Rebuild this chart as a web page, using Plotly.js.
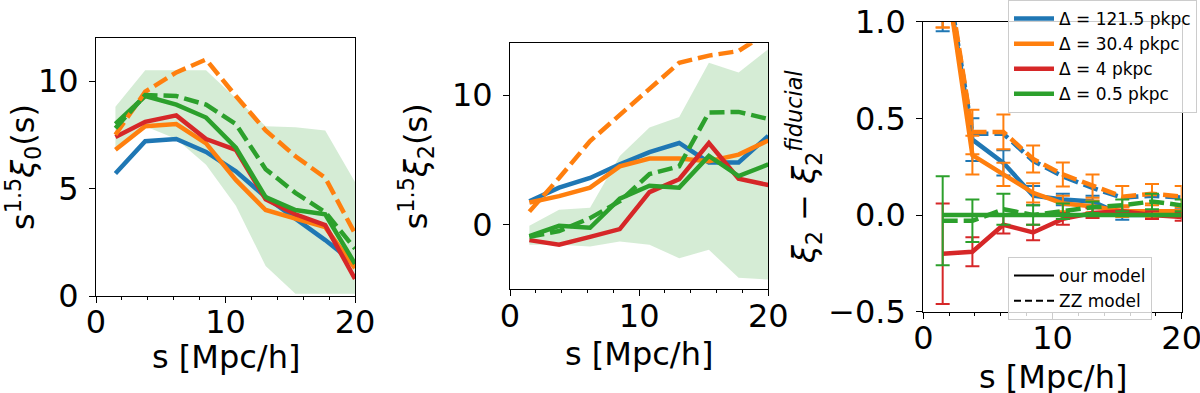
<!DOCTYPE html>
<html>
<head>
<meta charset="utf-8">
<script src="https://cdn.plot.ly/plotly-3.0.1.min.js"></script>
<style>
  html, body { margin: 0; padding: 0; background: #ffffff; }
  #plot { width: 1200px; height: 393px; }
</style>
</head>
<body>
<div id="plot"></div>
<script>
// separation bins (Mpc/h)
const s = [1.5, 3.8, 6.2, 8.5, 10.8, 13.1, 15.4, 17.7, 20.0];

// monopole s^1.5 xi0
const xi0_blue = [5.7, 7.2, 7.3, 6.7, 5.8, 4.6, 3.6, 2.6, 1.5];
const xi0_orange = [6.8, 7.9, 8.0, 7.1, 5.4, 4.0, 3.6, 3.2, 1.3];
const xi0_red = [7.4, 8.1, 8.4, 7.3, 6.8, 4.5, 3.8, 3.3, 0.8];
const xi0_green = [8.0, 9.3, 8.9, 8.3, 6.9, 4.6, 4.0, 3.8, 1.5];
const xi0_orange_zz = [7.5, 9.5, 10.4, 11.0, 9.3, 7.7, 6.5, 5.5, 2.9];
const xi0_green_zz = [7.8, 9.35, 9.3, 8.9, 8.0, 5.9, 4.8, 3.9, 2.2];
const xi0_band_lo = [6.9, 7.9, 7.3, 6.1, 4.2, 1.4, 0.1, 0.1, 0.1];
const xi0_band_hi = [8.8, 10.5, 10.5, 10.5, 9.2, 7.9, 7.85, 7.7, 5.3];

// quadrupole s^1.5 xi2
const xi2_blue = [1.8, 2.85, 3.6, 4.65, 5.6, 6.3, 4.8, 4.8, 6.85];
const xi2_orange = [1.7, 2.2, 2.85, 4.5, 5.1, 5.1, 4.9, 5.4, 6.5];
const xi2_red = [-1.2, -1.55, -0.95, -0.35, 2.5, 3.5, 6.3, 3.55, 3.05];
const xi2_green = [-0.9, -0.1, -0.25, 2.0, 3.0, 2.85, 5.3, 3.75, 4.65];
const xi2_orange_zz = [1.0, 3.6, 6.45, 8.5, 10.45, 12.5, 13.05, 13.4, 14.9];
const xi2_green_zz = [-0.95, -0.5, 0.5, 1.8, 3.9, 4.5, 8.65, 8.7, 8.15];
const xi2_band_lo = [-1.55, -1.55, -1.7, -1.3, -1.55, -2.6, -1.95, -4.1, -4.25];
const xi2_band_hi = [-0.1, 1.15, 1.3, 5.3, 7.5, 8.3, 12.5, 11.75, 13.55];

// xi2 - xi2^fiducial with errors
const d_blue = [1.35, 0.39, 0.27, 0.10, 0.08, 0.07, 0.0, 0.0, 0.01];
const d_blue_err = [0.4, 0.11, 0.065, 0.05, 0.03, 0.03, 0.025, 0.02, 0.02];
const d_orange = [1.37, 0.31, 0.21, 0.115, 0.06, 0.045, 0.02, 0.02, 0.02];
const d_orange_err = [0.4, 0.1, 0.06, 0.05, 0.04, 0.03, 0.03, 0.03, 0.03];
const d_red = [-0.2, -0.19, -0.05, -0.09, -0.02, 0.01, 0.02, 0.0, -0.01];
const d_red_err = [0.26, 0.075, 0.045, 0.04, 0.03, 0.025, 0.02, 0.02, 0.02];
const d_green = [0, 0, 0, 0, 0, 0, 0, 0, 0];
const d_blue_zz = [1.38, 0.42, 0.42, 0.28, 0.2, 0.14, 0.09, 0.1, 0.09];
const d_orange_zz = [1.4, 0.43, 0.43, 0.29, 0.21, 0.15, 0.095, 0.11, 0.095];
const d_orange_zz_err = [0.43, 0.115, 0.09, 0.07, 0.062, 0.06, 0.055, 0.05, 0.055];
const d_green_zz = [-0.03, -0.03, 0.03, 0.0, 0.02, 0.04, 0.05, 0.07, 0.05];
const d_green_zz_err = [0.23, 0.11, 0.08, 0.05, 0.04, 0.03, 0.03, 0.04, 0.03];

const labels = ['Δ = 121.5 pkpc', 'Δ = 30.4 pkpc', 'Δ = 4 pkpc', 'Δ = 0.5 pkpc'];

const BLUE = '#1f77b4', ORANGE = '#ff7f0e', RED = '#d62728', GREEN = '#2ca02c';
const DASH = '15px,6px';

function line(x, y, color, ax, dashed) {
    return {
        x: x, y: y, xaxis: 'x' + ax, yaxis: 'y' + ax,
        type: 'scatter', mode: 'lines', showlegend: false,
        line: {color: color, width: 4.5, dash: dashed ? DASH : 'solid'},
        hoverinfo: 'skip'
    };
}

function band(lo, hi, ax) {
    return [
        {x: s, y: lo, xaxis: 'x' + ax, yaxis: 'y' + ax, type: 'scatter', mode: 'lines',
         line: {width: 0, color: 'rgba(0,0,0,0)'}, showlegend: false, hoverinfo: 'skip'},
        {x: s, y: hi, xaxis: 'x' + ax, yaxis: 'y' + ax, type: 'scatter', mode: 'lines',
         fill: 'tonexty', fillcolor: 'rgba(44,160,44,0.2)',
         line: {width: 0, color: 'rgba(0,0,0,0)'}, showlegend: false, hoverinfo: 'skip'}
    ];
}

function withErr(tr, err) {
    tr.error_y = {type: 'data', array: err, visible: true, color: tr.line.color, thickness: 2, width: 7};
    return tr;
}

var data = [];

// panel 1
data = data.concat(band(xi0_band_lo, xi0_band_hi, ''));
data.push(line(s, xi0_blue, BLUE, ''));
data.push(line(s, xi0_orange, ORANGE, ''));
data.push(line(s, xi0_red, RED, ''));
data.push(line(s, xi0_green, GREEN, ''));
data.push(line(s, xi0_orange_zz, ORANGE, '', true));
data.push(line(s, xi0_green_zz, GREEN, '', true));

// panel 2
data = data.concat(band(xi2_band_lo, xi2_band_hi, '2'));
data.push(line(s, xi2_blue, BLUE, '2'));
data.push(line(s, xi2_orange, ORANGE, '2'));
data.push(line(s, xi2_red, RED, '2'));
data.push(line(s, xi2_green, GREEN, '2'));
data.push(line(s, xi2_orange_zz, ORANGE, '2', true));
data.push(line(s, xi2_green_zz, GREEN, '2', true));

// panel 3
var p3 = [
    withErr(line(s, d_blue, BLUE, '3'), d_blue_err),
    withErr(line(s, d_orange, ORANGE, '3'), d_orange_err),
    withErr(line(s, d_red, RED, '3'), d_red_err),
    line(s, d_green, GREEN, '3')
];
p3.forEach(function(tr, i) {
    tr.showlegend = true;
    tr.name = labels[i];
    tr.legend = 'legend';
    tr.legendgroup = 'g' + i;
});
data.push(line(s, d_blue_zz, BLUE, '3', true));
data = data.concat(p3);
data.push(withErr(line(s, d_orange_zz, ORANGE, '3', true), d_orange_zz_err));
data.push(withErr(line(s, d_green_zz, GREEN, '3', true), d_green_zz_err));

// model style legend
data.push({x: [null], y: [null], xaxis: 'x3', yaxis: 'y3', type: 'scatter', mode: 'lines',
           name: 'our model', legend: 'legend2', line: {color: '#000000', width: 2}});
data.push({x: [null], y: [null], xaxis: 'x3', yaxis: 'y3', type: 'scatter', mode: 'lines',
           name: 'ZZ model', legend: 'legend2', line: {color: '#000000', width: 2, dash: '7px,4px'}});

const FONT = 'DejaVu Sans, sans-serif';

function xax(dom, anchor) {
    return {
        domain: dom, anchor: anchor, range: [0, 20], tickvals: [0, 10, 20],
        ticks: 'outside', ticklen: 6, tickwidth: 1, tickcolor: '#000',
        minor: {dtick: 2, ticks: 'outside', ticklen: 3, tickcolor: '#000'},
        showline: true, mirror: true, linecolor: '#000', linewidth: 1,
        showgrid: false, zeroline: false,
        tickfont: {family: FONT, size: 32, color: '#000'},
        ticklabelstandoff: -8, ticklabeloverflow: 'allow'
    };
}

function yax(dom, anchor, rng, ticks, title, standoff, fmt) {
    return {
        domain: dom, anchor: anchor, range: rng, tickvals: ticks, tickformat: fmt || '',
        ticks: 'outside', ticklen: 6, tickwidth: 1, tickcolor: '#000',
        showline: true, mirror: true, linecolor: '#000', linewidth: 1,
        showgrid: false, zeroline: false,
        tickfont: {family: FONT, size: 32, color: '#000'},
        ticklabelstandoff: 4,
        title: {text: title, font: {family: FONT, size: 32, color: '#000'}, standoff: standoff}
    };
}

function xtitle(xc, yc) {
    return {
        text: 's [Mpc/h]', xref: 'paper', yref: 'paper',
        x: xc / 1200, y: 1 - yc / 393, xanchor: 'center', yanchor: 'middle',
        showarrow: false, font: {family: FONT, size: 32, color: '#000'}
    };
}

var layout = {
    width: 1200,
    height: 393,
    margin: {l: 0, r: 0, t: 0, b: 0},
    paper_bgcolor: '#ffffff',
    plot_bgcolor: '#ffffff',
    font: {family: FONT, color: '#000'},
    xaxis: xax([96 / 1200, 355 / 1200], 'y'),
    yaxis: yax([1 - 296 / 393, 1 - 38 / 393], 'x', [0, 12], [0, 5, 10],
               's<sup>1.5</sup><i>ξ</i><sub>0</sub>(s)', 32),
    xaxis2: xax([510 / 1200, 768.3 / 1200], 'y2'),
    yaxis2: yax([1 - 289.3 / 393, 1 - 43.3 / 393], 'x2', [-5, 14], [0, 10],
                's<sup>1.5</sup><i>ξ</i><sub>2</sub>(s)', 14),
    xaxis3: xax([923.3 / 1200, 1181.7 / 1200], 'y3'),
    yaxis3: yax([1 - 311.7 / 393, 1 - 21.7 / 393], 'x3', [-0.5, 1.0], [-0.5, 0, 0.5, 1.0],
                '<i>ξ</i><sub>2</sub> − <i>ξ</i><sub>2</sub><sup><i>fiducial</i></sup>', 2, '.1f'),
    annotations: [xtitle(225.5, 357), xtitle(639, 354), xtitle(1052.5, 377)],
    legend: {
        x: 1008 / 1200, y: 1, xanchor: 'left', yanchor: 'top', traceorder: 'normal',
        tracegroupgap: 3,
        bgcolor: 'rgba(255,255,255,0.8)', bordercolor: '#cccccc', borderwidth: 1,
        font: {family: FONT, size: 17, color: '#000'},
        itemwidth: 40
    },
    legend2: {
        x: 1008 / 1200, y: 1 - 257 / 393, xanchor: 'left', yanchor: 'top', traceorder: 'normal',
        bgcolor: 'rgba(255,255,255,0.8)', bordercolor: '#cccccc', borderwidth: 1,
        font: {family: FONT, size: 17, color: '#000'},
        itemwidth: 40
    }
};

Plotly.newPlot('plot', data, layout, {displayModeBar: false, staticPlot: true});
</script>
</body>
</html>
